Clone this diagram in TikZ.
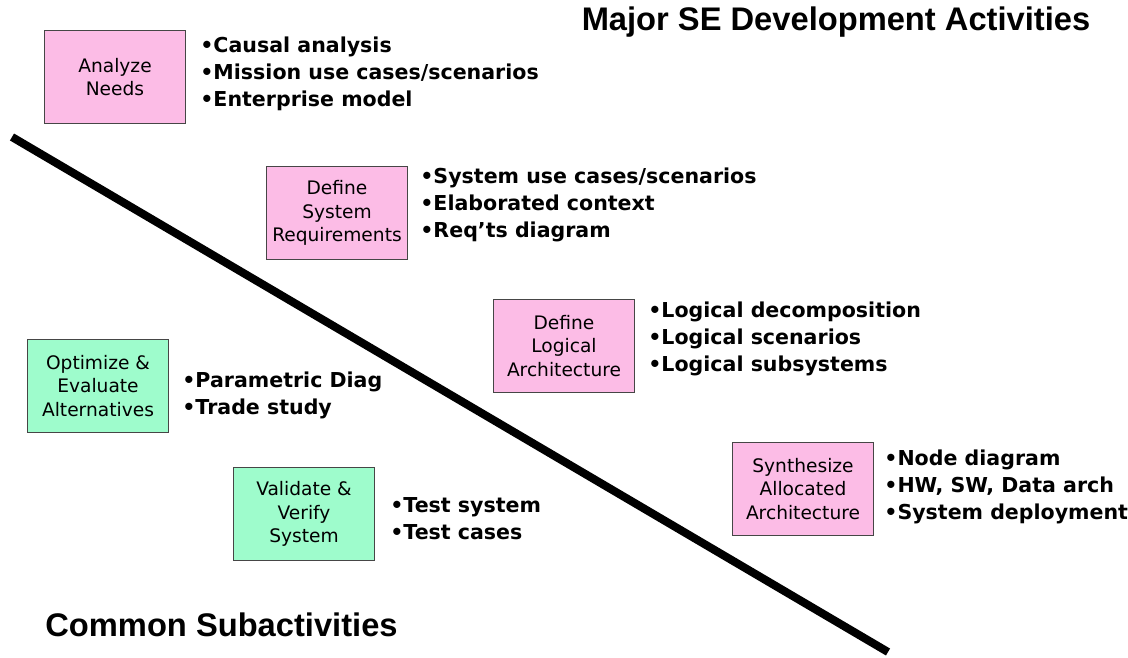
\documentclass[tikz,border=0pt]{standalone}
\usepackage{fontspec}
\setmainfont{DejaVu Sans}
\newfontfamily\titlefont{Liberation Sans}
\usetikzlibrary{positioning}
\definecolor{P}{RGB}{252, 188, 230}
\definecolor{G}{RGB}{158, 252, 204}
\definecolor{E}{RGB}{70, 70, 70}

\tikzset{
  actbox/.style={draw=E, line width=0.6pt, fill=P, minimum width=80.5pt, minimum height=52.7pt,
    align=center, inner sep=1pt, font=\fontsize{10.6}{13.3}\selectfont},
  subbox/.style={actbox, fill=G},
  items/.style={anchor=west, align=left, inner sep=0pt, font=\fontsize{11.7}{15.4}\selectfont\bfseries},
  heading/.style={font=\titlefont\fontsize{18.6}{21}\selectfont\bfseries, inner sep=0pt}
}

\begin{document}
\begin{tikzpicture}[x=0.02cm,y=-0.02cm]
    \useasboundingbox (0,0) rectangle (1128,658);

    % Titulos
    \node[heading] (major) at (836,22) {Major SE Development Activities};
    \node[heading, anchor=west] (common) at (45,625) {Common Subactivities};

    % Linea divisoria
    \coordinate (lineA) at (12,137);
    \coordinate (lineB) at (888,652);
    \draw[line width=4.6pt] (lineA) -- (lineB);

    % Actividades principales
    \node[actbox] (needs) at (115,77) {Analyze\\Needs};
    \node[items] (needsL) at (200,74) {•Causal analysis\\•Mission use cases/scenarios\\•Enterprise model};

    \node[actbox] (sysreq) at (337,213) {Define\\System\\Requirements};
    \node[items] (sysreqL) at (420,205) {•System use cases/scenarios\\•Elaborated context\\•Req’ts diagram};

    \node[actbox] (logarch) at (564,346) {Define\\Logical\\Architecture};
    \node[items] (logarchL) at (648,339) {•Logical decomposition\\•Logical scenarios\\•Logical subsystems};

    \node[actbox] (allocarch) at (803,489) {Synthesize\\Allocated\\Architecture};
    \node[items] (allocarchL) at (884,487) {•Node diagram\\•HW, SW, Data arch\\•System deployment};

    % Subactividades
    \node[subbox] (optim) at (98,386) {Optimize \&\\Evaluate\\Alternatives};
    \node[items] (optimL) at (182,395) {•Parametric Diag\\•Trade study};

    \node[subbox] (valid) at (304,514) {Validate \&\\Verify\\System};
    \node[items] (validL) at (390,519) {•Test system\\•Test cases};
\end{tikzpicture}
\end{document}
